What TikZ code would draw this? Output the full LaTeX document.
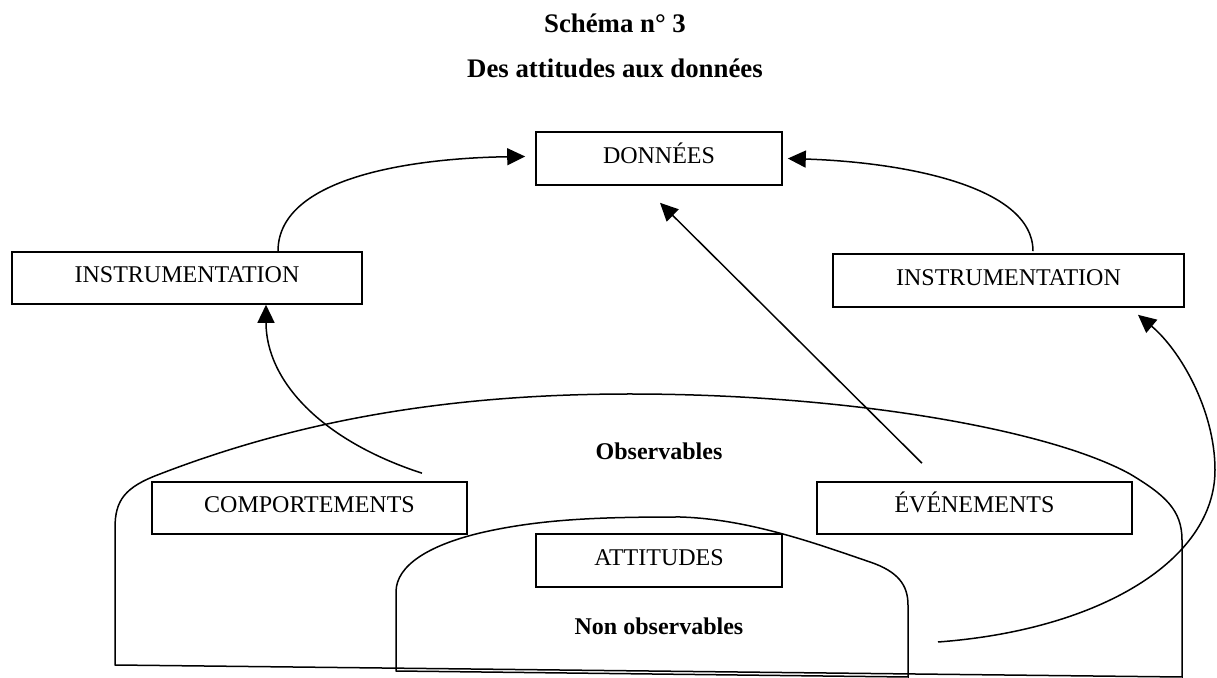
\documentclass[tikz,border=0pt]{standalone}
\usepackage{fontspec}
\setmainfont{Liberation Serif}
\usetikzlibrary{arrows.meta,calc}
\begin{document}
\begin{tikzpicture}[x=0.5pt,y=-0.5pt,
  box/.style={draw,line width=0.8pt,inner sep=0pt,font=\fontsize{12}{14}\selectfont,text height=8pt,text depth=3pt},
  lbl/.style={font=\fontsize{12}{14}\selectfont\bfseries,anchor=base,inner sep=0pt},
  ttl/.style={font=\fontsize{13.4}{16}\selectfont\bfseries,anchor=base,inner sep=0pt},
  region/.style={line width=0.75pt},
  conn/.style={line width=0.75pt,-{Triangle[length=9pt,width=8.5pt]}}]
\useasboundingbox (0,0) rectangle (1217,678);

% outer region (Observables)
\draw[region] (1182,677) -- (115,665) -- (115,528)
  .. controls (115,500) and (125,487) .. (160,474)
  .. controls (300,420) and (450,394) .. (630,394)
  .. controls (850,394) and (1050,430) .. (1130,474)
  .. controls (1165,495) and (1182,510) .. (1182,540)
  -- cycle;
% inner region (Non observables)
\draw[region] (908,677) -- (396,671) -- (396,592)
  .. controls (396,565) and (430,545) .. (480,533)
  .. controls (540,519) and (600,517) .. (680,517)
  .. controls (750,519) and (820,545) .. (870,562)
  .. controls (898,571.5) and (908,585) .. (908,605)
  -- cycle;

% titles
\node[ttl] (t1) at (615,32.5) {Schéma n° 3};
\node[ttl] (t2) at (615,78) {Des attitudes aux données};

% boxes
\node[box,minimum width=123pt,minimum height=26.5pt] (donnees) at (659,158.5) {DONNÉES};
\node[box,minimum width=175pt,minimum height=26pt] (instrL) at (187,278) {INSTRUMENTATION};
\node[box,minimum width=175.5pt,minimum height=26.5pt] (instrR) at (1008.5,280.5) {INSTRUMENTATION};
\node[box,minimum width=157.5pt,minimum height=26pt] (comport) at (309.5,508) {COMPORTEMENTS};
\node[box,minimum width=157.5pt,minimum height=26pt] (events) at (974.5,508) {ÉVÉNEMENTS};
\node[box,minimum width=123pt,minimum height=26.5pt] (attitudes) at (659,560.5) {ATTITUDES};

% region labels
\node[lbl] (obs) at (659,460) {Observables};
\node[lbl] (nonobs) at (659,635) {Non observables};

% connectors
\draw[conn] ($(instrL.north)+(91,0)$) .. controls (278,175) and (420,158) .. ($(donnees.west)+(-10,-2)$);
\draw[conn] ($(comport.north)+(112.5,-8)$) .. controls (320,440) and (266,380) .. ($(instrL.south)+(79,0)$);
\draw[conn] ($(instrR.north)+(24.5,-2)$) .. controls (1033,185) and (900,162) .. ($(donnees.east)+(5,0)$);
\draw[conn] ($(events.north)+(-52.5,-18)$) -- ($(donnees.south)+(1,17)$);
\coordinate (nfree) at (938,642);
\draw[conn] (nfree) .. controls (1100,630) and (1215,560) .. (1215,470) .. controls (1215,410) and (1180,350) .. ($(instrR.south)+(129.5,7)$);
\end{tikzpicture}
\end{document}
